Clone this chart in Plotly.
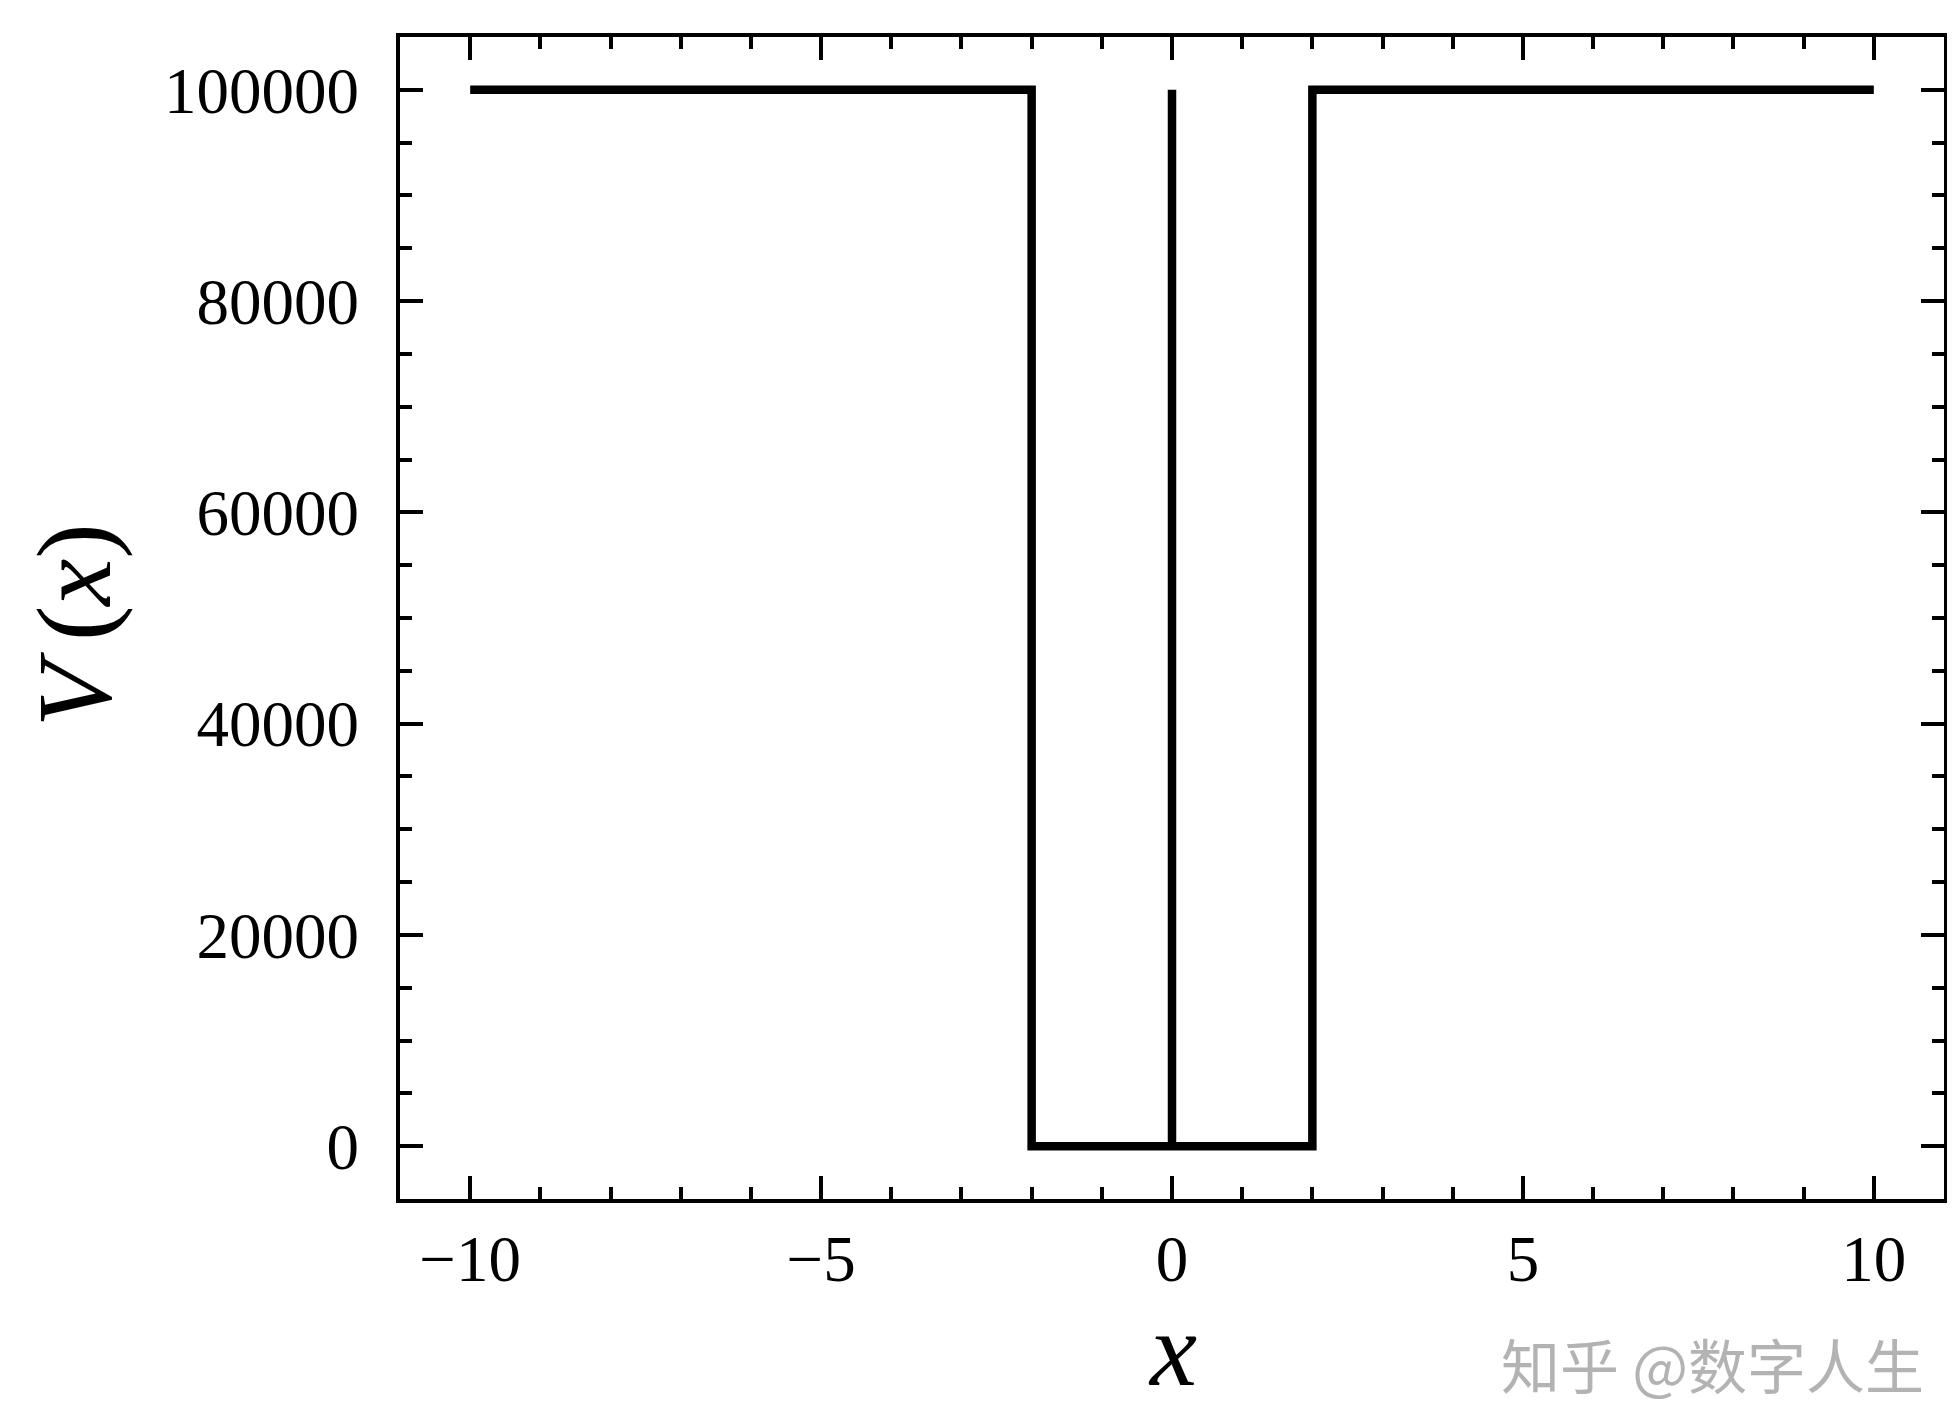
import plotly.graph_objects as go

# Data
x_vals = [-10, -2, -2, 0, 0, 0, 2, 2, 10]
v_vals = [100000, 100000, 0, 0, 100000, 0, 0, 100000, 100000]

x_ticks = [-10, -5, 0, 5, 10]
y_ticks = [0, 20000, 40000, 60000, 80000, 100000]

W, H = 1955, 1426
L, R, T, B = 392, 19, 29, 235
pw, ph = W - L - R, H - T - B

fig = go.Figure()
fig.add_trace(go.Scatter(
    x=x_vals, y=v_vals, mode="lines",
    line=dict(color="black", width=8.5),
    showlegend=False, hoverinfo="skip",
))

font_serif = "Liberation Serif, Times New Roman, serif"

axis_common = dict(
    showgrid=False, zeroline=False,
    showline=True, linecolor="black", linewidth=4,
    mirror="ticks", ticks="inside", ticklen=23, tickwidth=4, tickcolor="black",
    tickfont=dict(family=font_serif, size=65, color="black"),
)

fig.update_xaxes(
    range=[-11, 11], tickvals=x_ticks,
    minor=dict(dtick=1, ticks="inside", ticklen=12, tickwidth=3.5, tickcolor="black"),
    ticklabelstandoff=0,
    **axis_common,
)
fig.update_yaxes(
    range=[-5000, 105000], tickvals=y_ticks, tickformat="d",
    minor=dict(dtick=5000, ticks="inside", ticklen=12, tickwidth=3.5, tickcolor="black"),
    ticklabelstandoff=24,
    **axis_common,
)

fig.add_annotation(
    text="<i>x</i>", xref="paper", yref="paper",
    x=0.5, y=(-(1341 - (T + ph))) / ph,
    xanchor="center", yanchor="middle", showarrow=False,
    font=dict(family=font_serif, size=106, color="black"),
)
fig.add_annotation(
    text="<i>V</i>\u2009(<i>x</i>)", xref="paper", yref="paper",
    x=(66 - L) / pw, y=((T + ph) - 617) / ph, textangle=-90,
    xanchor="center", yanchor="middle", showarrow=False,
    font=dict(family=font_serif, size=106, color="black"),
)
fig.add_annotation(
    text="知乎 @数字人生", xref="paper", yref="paper",
    x=(1918 - L) / pw, y=((T + ph) - 1355) / ph,
    xanchor="right", yanchor="middle", showarrow=False,
    font=dict(family="Noto Sans CJK SC", size=59, color="#b3b3b3"),
)

fig.update_layout(
    width=W, height=H,
    margin=dict(l=L, r=R, t=T, b=B, autoexpand=False),
    plot_bgcolor="white", paper_bgcolor="white",
)

fig.write_html("out.html")
